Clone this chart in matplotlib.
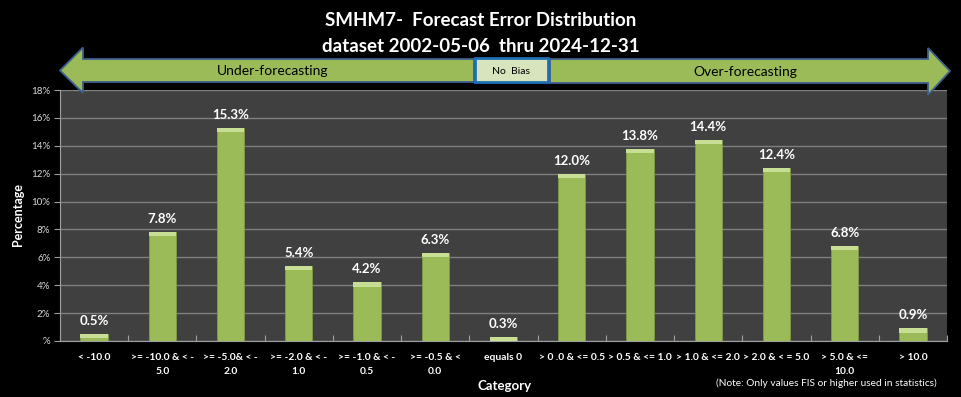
import matplotlib
matplotlib.use("Agg")
import matplotlib.pyplot as plt
from matplotlib.patches import Polygon, Rectangle
import numpy as np

categories = ["< -10.0", ">= -10.0 & < -\n5.0", ">= -5.0& < -\n2.0", ">= -2.0 & < -\n1.0",
              ">= -1.0 & < -\n0.5", ">= -0.5 & <\n0.0", "equals 0", "> 0 .0 & <= 0.5",
              "> 0.5 & <= 1.0", "> 1.0 & <= 2.0", "> 2.0 & < = 5.0", "> 5.0 & <=\n10.0", "> 10.0"]
values = [0.5, 7.8, 15.3, 5.4, 4.2, 6.3, 0.3, 12.0, 13.8, 14.4, 12.4, 6.8, 0.9]
yticks = [0, 2, 4, 6, 8, 10, 12, 14, 16, 18]
ytick_labels = ["%", "2%", "4%", "6%", "8%", "10%", "12%", "14%", "16%", "18%"]

W, H = 961, 397
fig = plt.figure(figsize=(W / 100, H / 100), dpi=100, facecolor="black")

def px(x, y):
    return (x / W, 1 - y / H)

ax = fig.add_axes([60 / W, 1 - 341 / H, (947 - 60) / W, (341 - 90) / H])
ax.set_facecolor("#404040")
x = np.arange(len(categories))
green = "#9BBB59"
ax.bar(x, values, width=0.4, color=green, edgecolor="#7E9C45", linewidth=0.6, zorder=3)
bevel = [min(v, 0.3) for v in values]
ax.bar(x, bevel, bottom=[v - b for v, b in zip(values, bevel)], width=0.4,
       color="#C9DE95", edgecolor="none", zorder=4)
for xi, v in zip(x, values):
    ax.text(xi, v + 0.5, f"{v:.1f}%", ha="center", va="bottom", color="white",
            fontsize=9.5, fontweight="bold", family="Lato", zorder=5)

ax.set_xlim(-0.5, len(categories) - 0.5)
ax.set_ylim(0, 18)
ax.set_yticks(yticks)
ax.set_yticklabels(ytick_labels, color="#D9D9D9", fontsize=7, family="Lato")
ax.set_xticks(np.arange(len(categories) + 1) - 0.5, minor=False)
ax.set_xticklabels([])
ax.set_xticks(x, minor=True)
ax.set_xticklabels(categories, minor=True, color="white", fontsize=7.4, fontweight="bold",
                   family="Lato", linespacing=1.7, va="top")
ax.tick_params(axis="x", which="minor", length=0, pad=9)
ax.tick_params(axis="x", which="major", length=4, color="#A0A0A0", direction="in")
ax.tick_params(axis="y", length=4, color="#A0A0A0", pad=3)
ax.grid(axis="y", color="#7F7F7F", linewidth=1.0, zorder=0)
for s in ["top", "right"]:
    ax.spines[s].set_visible(False)
ax.spines["left"].set_color("#A0A0A0")
ax.spines["bottom"].set_color("#A0A0A0")

fig.text(18 / W, 1 - 215 / H, "Percentage", ha="center", va="center", rotation=90, color="white",
         fontsize=9, fontweight="bold", family="Lato")
fig.text(505 / W, 1 - 386 / H, "Category", ha="center", va="center", color="white",
         fontsize=9.5, fontweight="bold", family="Lato")
fig.text(826 / W, 1 - 383 / H, "(Note: Only values FIS or higher used in statistics)",
         ha="center", va="center", color="white", fontsize=7.3, family="Lato")

fig.text(481 / W, 1 - 21 / H, "SMHM7-  Forecast Error Distribution", ha="center", va="center",
         color="white", fontsize=13.5, fontweight="bold", family="Lato")
fig.text(481 / W, 1 - 46 / H, "dataset 2002-05-06  thru 2024-12-31", ha="center", va="center",
         color="white", fontsize=13.5, fontweight="bold", family="Lato")

# arrows
left = [px(60, 70.5), px(83, 47.5), px(83, 59), px(474, 59), px(474, 82), px(83, 82), px(83, 93)]
right = [px(950, 71), px(928, 48), px(928, 59), px(550, 59), px(550, 83), px(928, 83), px(928, 95)]
for pts in (left, right):
    fig.patches.append(Polygon(pts, closed=True, transform=fig.transFigure, facecolor=green,
                               edgecolor="#3D5F8C", linewidth=1.3, zorder=1))
fig.patches.append(Rectangle(px(475, 82), 73 / W, 24 / H, transform=fig.transFigure,
                             facecolor="#D7E4BD", edgecolor="#1F6FB5", linewidth=2.0, zorder=2))
fig.text(273 / W, 1 - 71 / H, "Under-forecasting", ha="center", va="center", color="black",
         fontsize=10, family="Lato")
fig.text(745 / W, 1 - 72 / H, "Over-forecasting", ha="center", va="center", color="black",
         fontsize=10, family="Lato")
fig.text(511 / W, 1 - 71 / H, "No  Bias", ha="center", va="center", color="black",
         fontsize=7.5, family="Lato")

fig.savefig("out.png", dpi=100, facecolor="black")
